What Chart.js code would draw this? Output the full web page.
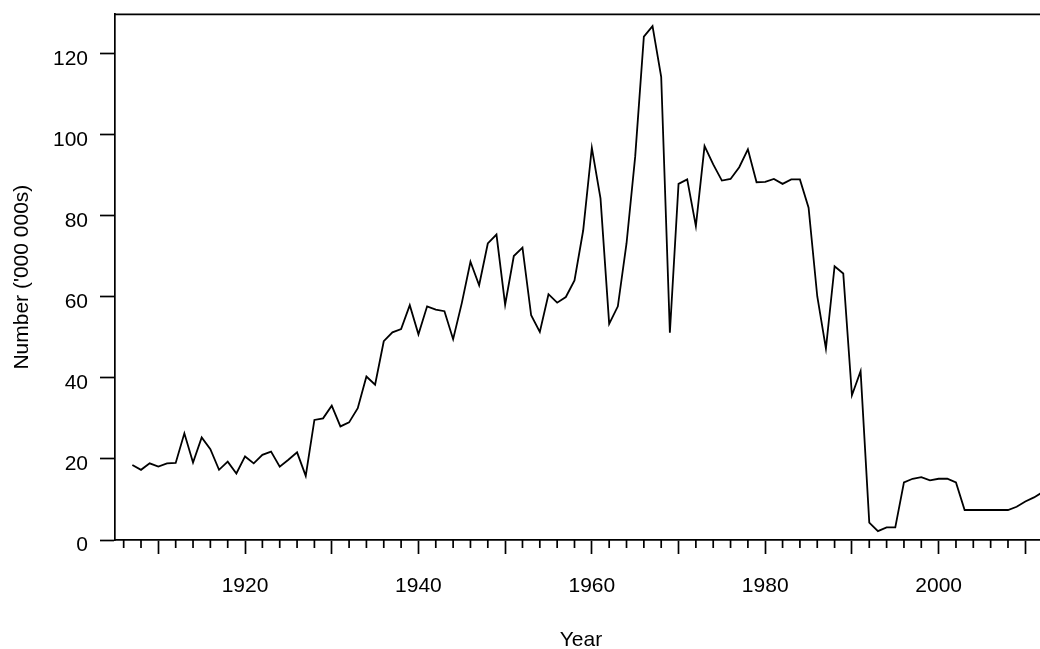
<!DOCTYPE html>
<html>
<head>
<meta charset="utf-8">
<title>Number by year</title>
<script src="https://cdn.jsdelivr.net/npm/chart.js@4.4.1/dist/chart.umd.min.js"></script>
<style>
  html, body { margin: 0; padding: 0; background: #fff; overflow: hidden; }
  #wrap { position: relative; width: 1060px; height: 660px; }
</style>
</head>
<body>
<div id="wrap"><canvas id="chart"></canvas></div>
<script>
// data, one value per year
const years = [
  1907, 1908, 1909, 1910, 1911, 1912, 1913, 1914, 1915, 1916, 1917, 1918, 1919,
  1920, 1921, 1922, 1923, 1924, 1925, 1926, 1927, 1928, 1929,
  1930, 1931, 1932, 1933, 1934, 1935, 1936, 1937, 1938, 1939,
  1940, 1941, 1942, 1943, 1944, 1945, 1946, 1947, 1948, 1949,
  1950, 1951, 1952, 1953, 1954, 1955, 1956, 1957, 1958, 1959,
  1960, 1961, 1962, 1963, 1964, 1965, 1966, 1967, 1968, 1969,
  1970, 1971, 1972, 1973, 1974, 1975, 1976, 1977, 1978, 1979,
  1980, 1981, 1982, 1983, 1984, 1985, 1986, 1987, 1988, 1989,
  1990, 1991, 1992, 1993, 1994, 1995, 1996, 1997, 1998, 1999,
  2000, 2001, 2002, 2003, 2004, 2005, 2006, 2007, 2008, 2009,
  2010, 2011, 2012
];
const numbers = [
  18.5, 17.3, 18.9, 18.1, 18.9, 19.0, 26.3, 19.1, 25.3, 22.4, 17.3, 19.3, 16.4,
  20.6, 18.9, 21.0, 21.8, 18.1, 19.8, 21.6, 15.8, 29.6, 30.0,
  33.1, 28.0, 29.0, 32.5, 40.3, 38.3, 49.0, 51.2, 52.0, 57.9,
  50.7, 57.6, 56.8, 56.4, 49.5, 58.4, 68.6, 62.8, 73.1, 75.3,
  58.0, 70.0, 72.1, 55.4, 51.3, 60.6, 58.5, 59.9, 64.0, 76.3,
  96.7, 84.2, 53.3, 57.6, 73.1, 94.5, 124.1, 126.7, 114.2, 51.1,
  87.8, 88.9, 77.4, 97.1, 92.6, 88.6, 89.0, 91.9, 96.3, 88.2,
  88.3, 89.0, 87.8, 88.9, 88.9, 81.9, 60.1, 47.2, 67.5, 65.7,
  35.7, 41.6, 4.3, 2.2, 3.1, 3.1, 14.2, 15.1, 15.5, 14.7,
  15.1, 15.1, 14.2, 7.4, 7.4, 7.4, 7.4, 7.4, 7.4, 8.2,
  9.5, 10.5, 11.8
];

const yTicks = [0, 20, 40, 60, 80, 100, 120];
const xMajorTicks = [1910, 1920, 1930, 1940, 1950, 1960, 1970, 1980, 1990, 2000, 2010];
const xLabelTicks = [1920, 1940, 1960, 1980, 2000];
const xMinorTicks = [
  1906, 1908, 1912, 1914, 1916, 1918, 1922, 1924, 1926, 1928,
  1932, 1934, 1936, 1938, 1942, 1944, 1946, 1948, 1952, 1954, 1956, 1958,
  1962, 1964, 1966, 1968, 1972, 1974, 1976, 1978, 1982, 1984, 1986, 1988,
  1992, 1994, 1996, 1998, 2002, 2004, 2006, 2008, 2012
];

Chart.defaults.font.family = '"Liberation Sans", Arial, sans-serif';
Chart.defaults.font.size = 21;
Chart.defaults.color = '#000';

const AXIS_W = 1.7;

// scales should not ask the layout for extra room around the plot
function noPad(s) {
  s.paddingTop = 0; s.paddingBottom = 0; s.paddingLeft = 0; s.paddingRight = 0;
}

// top frame line + short minor ticks under the x axis
const framePlugin = {
  id: 'frame',
  afterDraw(chart) {
    const ctx = chart.ctx;
    const area = chart.chartArea;
    const xs = chart.scales.x;
    ctx.save();
    ctx.strokeStyle = '#000';
    ctx.lineWidth = AXIS_W;
    ctx.beginPath();
    ctx.moveTo(area.left, area.top);
    ctx.lineTo(area.right, area.top);
    xMinorTicks.forEach(v => {
      const px = xs.getPixelForValue(v);
      if (px < area.left || px > area.right) return;
      ctx.moveTo(px, area.bottom);
      ctx.lineTo(px, area.bottom + 8);
    });
    ctx.stroke();
    ctx.restore();
  }
};

new Chart(document.getElementById('chart'), {
  type: 'line',
  data: {
    datasets: [{
      data: years.map((y, i) => ({ x: y, y: numbers[i] })),
      borderColor: '#000',
      borderWidth: 1.8,
      pointRadius: 0,
      tension: 0,
      fill: false
    }]
  },
  options: {
    responsive: true,
    maintainAspectRatio: false,
    animation: false,
    layout: { padding: { top: 14.3, right: 13, bottom: 0, left: 0 } },
    plugins: { legend: { display: false }, tooltip: { enabled: false } },
    scales: {
      x: {
        type: 'linear',
        min: 1905,
        max: 2012.5,
        afterBuildTicks: s => { s.ticks = xMajorTicks.map(v => ({ value: v })); },
        afterFit: s => { s.height = 120; noPad(s); },
        grid: {
          display: true, drawOnChartArea: false, drawTicks: true,
          tickLength: 14, tickColor: '#000', tickWidth: AXIS_W
        },
        border: { display: true, color: '#000', width: AXIS_W },
        ticks: {
          autoSkip: false, maxRotation: 0, padding: 20,
          callback: v => xLabelTicks.includes(v) ? String(v) : ''
        },
        title: { display: true, text: 'Year', padding: { top: 0, bottom: 6.7 } }
      },
      y: {
        min: 0,
        max: 129.6,
        afterBuildTicks: s => { s.ticks = yTicks.map(v => ({ value: v })); },
        afterFit: s => { s.width = 115; noPad(s); },
        grid: {
          display: true, drawOnChartArea: false, drawTicks: true,
          tickLength: 15, tickColor: '#000', tickWidth: AXIS_W
        },
        border: { display: true, color: '#000', width: AXIS_W },
        ticks: { padding: 12, labelOffset: 5.5, callback: v => String(v) },
        title: { display: true, text: "Number ('000 000s)", padding: { top: 10, bottom: 0 } }
      }
    }
  },
  plugins: [framePlugin]
});
</script>
</body>
</html>
